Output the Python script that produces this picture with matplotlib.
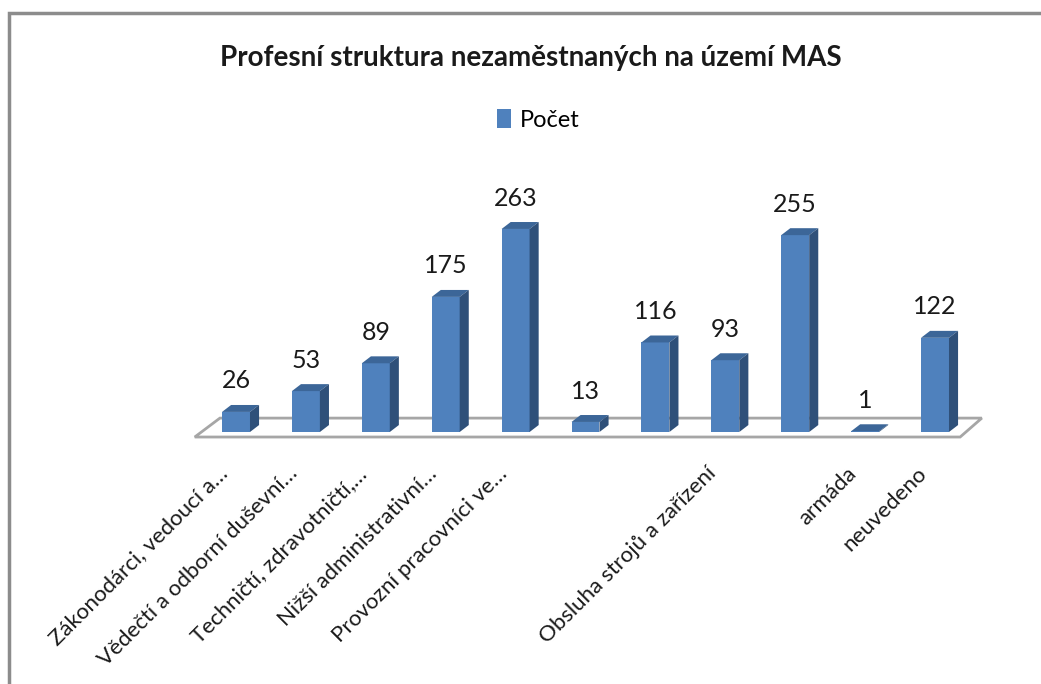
import numpy as np
import matplotlib.pyplot as plt
import matplotlib.transforms as mtrans
from matplotlib.patches import Polygon, Rectangle, Patch

plt.rcParams["font.family"] = ["Lato", "DejaVu Sans"]

# data
labels = ["Zákonodárci, vedoucí a…", "Vědečtí a odborní duševní…",
          "Techničtí, zdravotničtí,…", "Nižší administrativní…",
          "Provozní pracovníci ve…", "", "", "Obsluha strojů a zařízení",
          "", "armáda", "neuvedeno"]
values = [26, 53, 89, 175, 263, 13, 116, 93, 255, 1, 122]

front_col = "#4f81bd"
top_col = "#3c6698"
side_col = "#2f5079"

W, H = 1041, 684
fig = plt.figure(figsize=(W / 100, H / 100), dpi=100)

# axes placed so category 0 sits at ~236px, 10 at ~935px, zero at ~432px from top
px_per_cat = 69.9
px_per_val = 0.772
ymin, ymax = -10, 300
left = (236 - 0.5 * px_per_cat) / W
width = 11 * px_per_cat / W
bottom = (H - 432 - (-ymin) * px_per_val) / H
height = (ymax - ymin) * px_per_val / H
ax = fig.add_axes([left, bottom, width, height])
ax.set_xlim(-0.5, 10.5)
ax.set_ylim(ymin, ymax)

bw = 0.4          # front width
dx, dy = 0.13, 9  # depth offset

# floor
ax.add_patch(Polygon([(-0.59, -6.5), (-0.23, 18), (10.67, 18), (10.36, -6.5)],
                     closed=True, facecolor="white", edgecolor="#a6a6a6",
                     linewidth=2, zorder=1, clip_on=False))

x = np.arange(len(values))
ax.bar(x, values, width=bw, color=front_col, zorder=3, linewidth=0)
for xi, v in zip(x, values):
    x0, x1 = xi - bw / 2, xi + bw / 2
    ax.add_patch(Polygon([(x0, v), (x0 + dx, v + dy), (x1 + dx, v + dy), (x1, v)],
                         closed=True, facecolor=top_col, linewidth=0, zorder=3))
    ax.add_patch(Polygon([(x1, 0), (x1 + dx, dy), (x1 + dx, v + dy), (x1, v)],
                         closed=True, facecolor=side_col, linewidth=0, zorder=3))
    ax.annotate(str(v), (xi, v), xytext=(0, 14), textcoords="offset points",
                ha="center", va="bottom", fontsize=18, color="#1a1a1a")

ax.set_xticks(x)
ax.set_xticklabels(labels, rotation=45, ha="right", rotation_mode="anchor",
                   fontsize=16, color="#1a1a1a")
ax.tick_params(axis="x", length=0, pad=12)
shift = mtrans.ScaledTranslation(-0.19, -0.07, fig.dpi_scale_trans)
for lab in ax.get_xticklabels():
    lab.set_transform(lab.get_transform() + shift)
ax.set_yticks([])
for s in ax.spines.values():
    s.set_visible(False)
ax.patch.set_visible(False)

fig.text(0.51, 0.915, "Profesní struktura nezaměstnaných na území MAS",
         ha="center", va="center", fontsize=20, fontweight="bold", color="#1a1a1a")
fig.legend(handles=[Patch(facecolor=front_col, label="Počet")], loc="center",
           bbox_to_anchor=(0.517, 0.825), frameon=False, fontsize=17,
           handlelength=0.6, handleheight=0.9, handletextpad=0.4)

# chart frame (left and top edges visible)
fig.add_artist(Rectangle((9 / W, -0.5), 2, 0.5 + (H - 13) / H, transform=fig.transFigure,
                         fill=False, edgecolor="#8c8c8c", linewidth=2.5))

fig.savefig("out.png", dpi=100)
